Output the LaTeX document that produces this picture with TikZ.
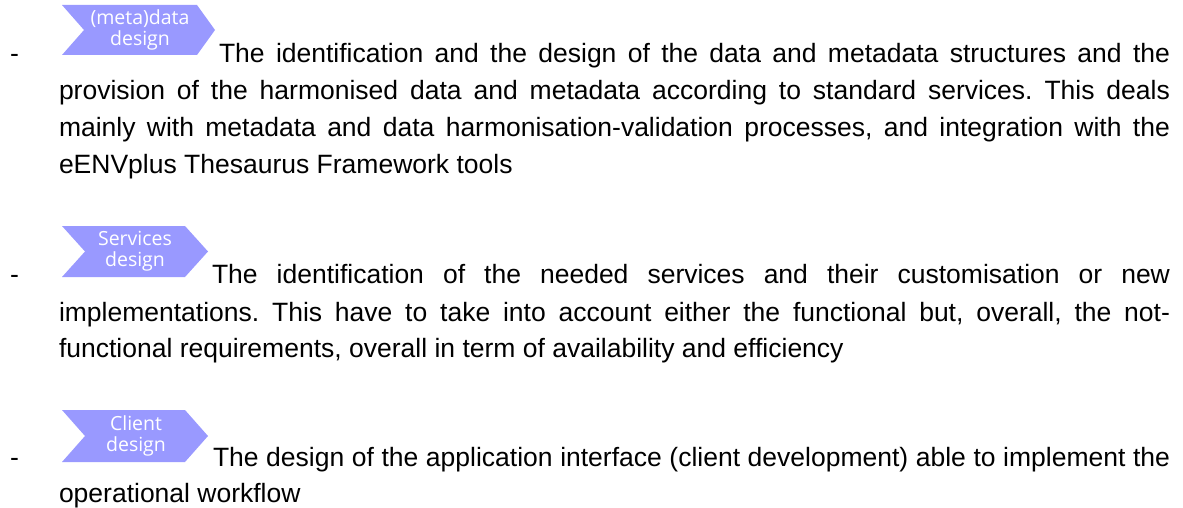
\documentclass[tikz,border=0pt]{standalone}
\usepackage{fontspec}
\setmainfont{Liberation Sans}
\newfontfamily\chevfont{Open Sans}
\definecolor{chevblue}{RGB}{153,153,255}
\tikzset{
  bodytext/.style={anchor=base west, inner sep=0pt, outer sep=0pt, font=\fontsize{26.5}{32}\selectfont\frenchspacing, text=black},
  chevtext/.style={inner sep=0pt, align=center, text=white, font=\chevfont\fontsize{19.5}{21}\selectfont},
  chevshape/.style={fill=chevblue, draw=none}
}
\newcommand{\jline}[2]{\makebox[#1][s]{#2}}
\begin{document}
\begin{tikzpicture}[x=1pt,y=-1pt]
\useasboundingbox (0,0) rectangle (1183,508);
% chevron 1
\fill[chevshape] (62,5) -- (197,5) -- (215,30) -- (197,55) -- (62,55) -- (84,30) -- cycle;
\node[chevtext] (c1) at (140,30) {(meta)data\\design};
% chevron 2
\fill[chevshape] (62,226) -- (185,226) -- (208,251.5) -- (185,277) -- (62,277) -- (85,251.5) -- cycle;
\node[chevtext] (c2) at (135,251.5) {Services\\design};
% chevron 3
\fill[chevshape] (62,410) -- (185,410) -- (208,436) -- (185,462) -- (62,462) -- (85,436) -- cycle;
\node[chevtext] (c3) at (136,436) {Client\\design};
% dashes
\node[bodytext] (d1) at (10,63) {-};
\node[bodytext] (d2) at (10,283.5) {-};
\node[bodytext] (d3) at (10,466.5) {-};
% block 1
\node[bodytext] (a1) at (219,63) {\jline{951pt}{The identification and the design of the data and metadata structures and the}};
\node[bodytext] (a2) at (59,100) {\jline{1111pt}{provision of the harmonised data and metadata according to standard services. This deals}};
\node[bodytext] (a3) at (59,137) {\jline{1111pt}{mainly with metadata and data harmonisation-validation processes, and integration with the}};
\node[bodytext] (a4) at (59,173.5) {eENVplus Thesaurus Framework tools};
% block 2
\node[bodytext] (b1) at (212,283.5) {\jline{958pt}{The identification of the needed services and their customisation or new}};
\node[bodytext] (b2) at (59,321) {\jline{1111pt}{implementations. This have to take into account either the functional but, overall, the not-}};
\node[bodytext] (b3) at (59,357.5) {functional requirements, overall in term of availability and efficiency};
% block 3
\node[bodytext] (e1) at (213,466.5) {\jline{957pt}{The design of the application interface (client development) able to implement the}};
\node[bodytext] (e2) at (59,502.5) {operational workflow};
\end{tikzpicture}
\end{document}
